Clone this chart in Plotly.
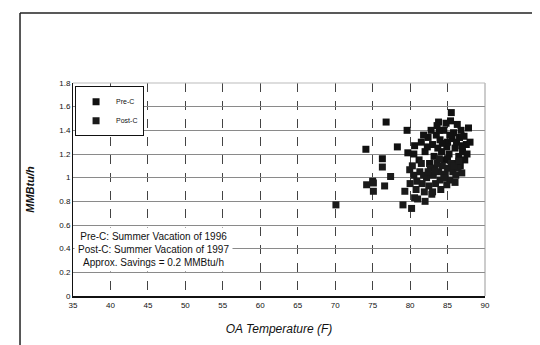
import plotly.graph_objects as go

# Pre-C (Summer Vacation 1996)
pre_x = [74.1, 76.8, 78.3, 76.3, 79.6, 83.8, 85.4, 85.5, 82.4, 80.6, 81.5, 82.0, 83.0, 83.5, 84.0,
         84.5, 85.0, 85.8, 86.3, 86.8, 87.2, 87.5, 86.0, 85.2, 84.2, 83.2, 82.6, 81.2, 80.5, 79.7,
         86.5, 87.0, 87.8, 84.8, 83.7, 85.6, 86.2, 82.8, 81.8, 84.6, 85.9, 87.3, 86.7, 88.0, 83.3,
         84.9, 85.3, 86.6, 83.9, 82.3, 86.9, 85.0, 84.3, 87.6, 83.6]
pre_y = [1.24, 1.47, 1.26, 1.16, 1.40, 1.47, 1.48, 1.55, 1.34, 1.27, 1.30, 1.22, 1.28, 1.36, 1.32,
         1.40, 1.30, 1.38, 1.45, 1.40, 1.35, 1.28, 1.25, 1.20, 1.22, 1.18, 1.12, 1.15, 1.20, 1.21,
         1.18, 1.22, 1.42, 1.46, 1.25, 1.33, 1.30, 1.40, 1.36, 1.15, 1.12, 1.15, 1.10, 1.30, 1.08,
         1.26, 1.36, 1.34, 1.40, 1.26, 1.27, 1.16, 1.29, 1.20, 1.44]

# Post-C (Summer Vacation 1997)
post_x = [75.0, 75.1, 74.2, 75.1, 76.6, 77.4, 76.3, 70.1, 79.05, 80.2, 79.3, 79.95, 80.0, 80.5, 80.8,
          81.0, 81.3, 81.6, 81.9, 82.2, 82.5, 82.9, 83.1, 83.4, 83.8, 84.0, 84.3, 84.7, 85.0, 85.3,
          85.7, 86.1, 86.4, 86.9, 84.1, 82.7, 81.5, 80.3, 83.6, 85.5, 84.9, 86.0, 82.0, 83.0, 80.6,
          81.8, 82.4, 83.3, 84.5, 85.8, 86.5, 80.9, 83.9]
post_y = [0.97, 0.955, 0.94, 0.885, 0.93, 1.01, 1.09, 0.77, 0.77, 0.74, 0.885, 1.067, 0.95, 1.02, 0.90,
          0.82, 1.05, 0.95, 0.88, 1.00, 0.93, 0.86, 1.02, 0.95, 1.05, 0.98, 1.10, 1.03, 1.08, 0.98,
          1.05, 1.02, 1.08, 1.04, 0.90, 1.08, 1.12, 1.10, 1.12, 1.12, 0.94, 0.96, 0.80, 0.88, 0.83,
          1.02, 1.05, 1.06, 1.00, 1.10, 1.14, 0.97, 1.16]

x_ticks = [35, 40, 45, 50, 55, 60, 65, 70, 75, 80, 85, 90]
y_ticks = [0, 0.2, 0.4, 0.6, 0.8, 1, 1.2, 1.4, 1.6, 1.8]
y_tick_text = ["0", "0.2", "0.4", "0.6", "0.8", "1", "1.2", "1.4", "1.6", "1.8"]

font = "Liberation Sans, Arial, sans-serif"

fig = go.Figure()
fig.add_trace(go.Scatter(x=pre_x, y=pre_y, mode="markers", name="Pre-C",
                         marker=dict(symbol="square", size=7, color="#111111")))
fig.add_trace(go.Scatter(x=post_x, y=post_y, mode="markers", name="Post-C",
                         marker=dict(symbol="square", size=7, color="#1a1a1a")))

fig.update_layout(
    width=540, height=345,
    margin=dict(l=65, r=63, t=75, b=57),
    paper_bgcolor="white", plot_bgcolor="white",
    font=dict(family=font, size=8, color="#111111"),
    showlegend=True,
    legend=dict(x=0.005, y=0.985, xanchor="left", yanchor="top",
                bgcolor="white", bordercolor="#111111", borderwidth=1,
                font=dict(size=7), itemsizing="trace", itemwidth=30, tracegroupgap=0),
    xaxis=dict(range=[35, 90], tickvals=x_ticks, showgrid=True,
               gridcolor="#444444", griddash="dash", gridwidth=1,
               showline=True, linecolor="#111111", linewidth=2, mirror=False,
               ticks="", zeroline=False,
               tickfont=dict(size=8, family=font),
               title=dict(text="<i>OA Temperature (F)</i>", font=dict(size=12, family=font),
                          standoff=16)),
    yaxis=dict(range=[0, 1.8], tickvals=y_ticks, ticktext=y_tick_text, showgrid=True,
               gridcolor="#8a8a8a", gridwidth=1,
               showline=True, linecolor="#111111", linewidth=1,
               ticks="", zeroline=False,
               tickfont=dict(size=8, family=font),
               title=dict(text="<b><i>MMBtu/h</i></b>", font=dict(size=11, family=font),
                          standoff=22)),
)

# right and top edges of plot area
fig.add_shape(type="line", xref="paper", yref="paper", x0=1, x1=1, y0=0, y1=1,
              line=dict(color="#999999", width=1))
fig.add_shape(type="line", xref="paper", yref="paper", x0=0, x1=1, y0=1, y1=1,
              line=dict(color="#bbbbbb", width=1))

# outer page frame lines
fig.add_shape(type="line", xref="paper", yref="paper", x0=-0.1286, x1=1.16, y0=1.3286, y1=1.3286,
              line=dict(color="#222222", width=1.5))
fig.add_shape(type="line", xref="paper", yref="paper", x0=-0.1286, x1=-0.1286, y0=1.3286, y1=-0.27,
              line=dict(color="#222222", width=1.5))

fig.add_annotation(
    xref="paper", yref="paper", x=0.003, y=0.325, xanchor="left", yanchor="top",
    text="Pre-C: Summer Vacation of 1996<br>Post-C: Summer Vacation of 1997<br>Approx. Savings = 0.2 MMBtu/h",
    showarrow=False, align="center", bgcolor="white",
    font=dict(size=10, family=font, color="#111111"), borderpad=3,
)

fig.write_html("out.html")
